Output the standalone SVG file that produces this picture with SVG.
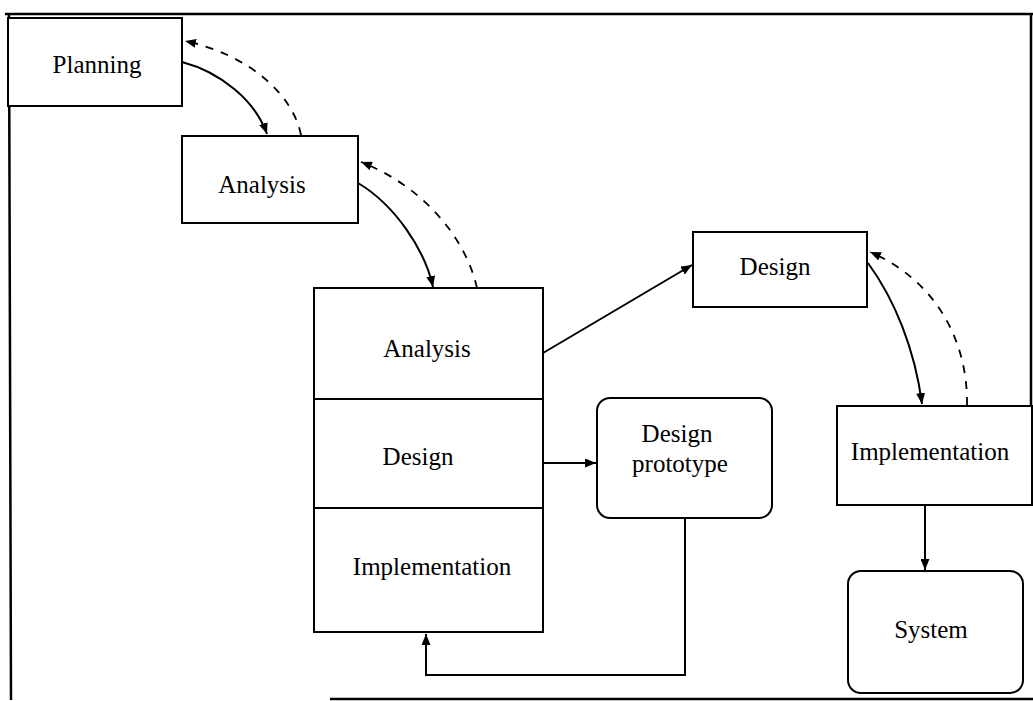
<svg xmlns="http://www.w3.org/2000/svg" width="1033" height="701" viewBox="0 0 1033 701">
<style>
.box{fill:#fff;stroke:#000;stroke-width:2}
.lbl{font-family:"Liberation Serif","Times New Roman",serif;font-size:25px;fill:#000;text-anchor:middle}
.c{fill:none;stroke:#000;stroke-width:2}
.d{fill:none;stroke:#000;stroke-width:1.8;stroke-dasharray:8 8}
.frame{fill:none;stroke:#000;stroke-width:2.5}
</style>
<defs>
<marker id="ah" markerUnits="userSpaceOnUse" markerWidth="12" markerHeight="9" refX="11" refY="4.5" orient="auto">
<path d="M0,0 L11,4.5 L0,9 z" fill="#000"/>
</marker>
</defs>
<rect width="1033" height="701" fill="#fff"/>
<g id="frame">
<path class="frame" d="M5,14 L1033,14 M9,14 L11,700 M330,699 L1033,699 M1031,14 L1031,505"/>
</g>
<g id="connectors">
<path class="c" d="M182,62 C220,72 255,100 267,134" marker-end="url(#ah)"/>
<path class="d" d="M301,135 C293,95 250,55 185,41" marker-end="url(#ah)"/>
<path class="c" d="M358,183 C395,205 425,250 433,287" marker-end="url(#ah)"/>
<path class="d" d="M477,288 C465,235 420,185 361,162" marker-end="url(#ah)"/>
<path class="c" d="M543,353 L692,265" marker-end="url(#ah)"/>
<path class="c" d="M543,463 L596,463" marker-end="url(#ah)"/>
<path class="c" d="M685,518 L685,675 L426,675 L426,634" marker-end="url(#ah)"/>
<path class="c" d="M868,263 C895,300 915,350 922,404" marker-end="url(#ah)"/>
<path class="d" d="M967,405 C968,340 935,280 870,252" marker-end="url(#ah)"/>
<path class="c" d="M925,505 L925,570" marker-end="url(#ah)"/>
</g>
<g id="planning">
<rect class="box" x="8" y="18" width="174" height="88"/>
<text class="lbl" x="97" y="73">Planning</text>
</g>
<g id="analysis">
<rect class="box" x="182" y="136" width="176" height="87"/>
<text class="lbl" x="262" y="193">Analysis</text>
</g>
<g id="stack">
<rect class="box" x="314" y="288" width="229" height="344"/>
<line class="c" x1="314" y1="399" x2="543" y2="399"/>
<line class="c" x1="314" y1="508" x2="543" y2="508"/>
<text class="lbl" x="427" y="357">Analysis</text>
<text class="lbl" x="418" y="465">Design</text>
<text class="lbl" x="432" y="575">Implementation</text>
</g>
<g id="design-prototype">
<rect class="box" x="597" y="398" width="175" height="120" rx="13" ry="13"/>
<text class="lbl" x="677" y="442">Design</text>
<text class="lbl" x="680" y="472">prototype</text>
</g>
<g id="design">
<rect class="box" x="693" y="232" width="174" height="75"/>
<text class="lbl" x="775" y="275">Design</text>
</g>
<g id="implementation">
<rect class="box" x="837" y="406" width="195" height="99"/>
<text class="lbl" x="930" y="460">Implementation</text>
</g>
<g id="system">
<rect class="box" x="848" y="571" width="175" height="122" rx="13" ry="13"/>
<text class="lbl" x="931" y="638">System</text>
</g>
</svg>
